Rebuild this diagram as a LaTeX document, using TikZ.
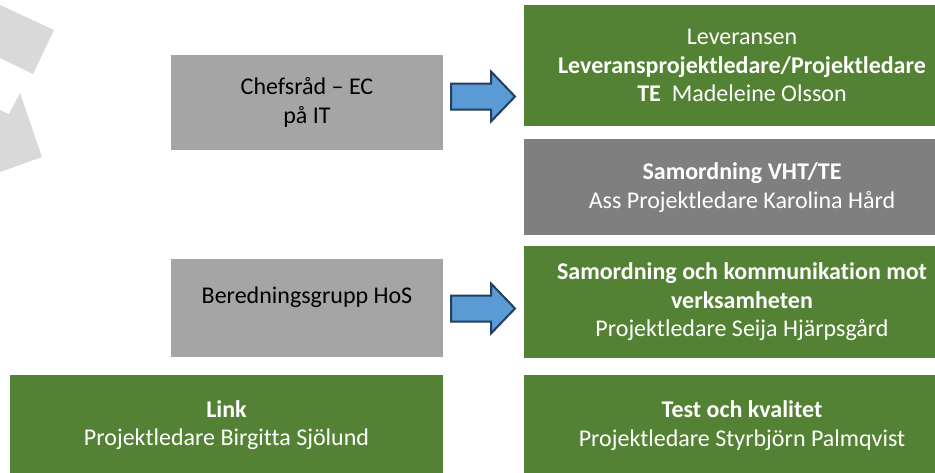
\documentclass[tikz,border=0pt]{standalone}
\usepackage{fontspec}
\setmainfont{Carlito}[Ligatures=NoCommon]
\usetikzlibrary{positioning}
\definecolor{boxgreen}{HTML}{548235}
\definecolor{boxgrey}{HTML}{A5A5A5}
\definecolor{darkgrey}{HTML}{7F7F7F}
\definecolor{shapegrey}{HTML}{D9D9D9}
\definecolor{arrowblue}{HTML}{5B9BD5}
\definecolor{arrowline}{HTML}{223F5E}

\begin{document}
\begin{tikzpicture}[
    x=1pt, y=-1pt,
    node distance=13pt,
    box/.style={rectangle, inner sep=0pt, align=center, font=\fontsize{24}{28.5}\selectfont},
    greenbox/.style={box, fill=boxgreen, text=white, minimum width=436pt},
    darkbox/.style={box, fill=darkgrey, text=white, minimum width=436pt},
    greybox/.style={box, fill=boxgrey, text=black, minimum width=272pt},
    blockarrow/.style={draw=arrowline, fill=arrowblue, line width=2pt, line join=miter}
]
\clip (0,0) rectangle (935,472);

\fill[shapegrey] (0,5) -- (54,30) -- (33,74) -- (0,58) -- cycle;
\fill[shapegrey] (0,110) -- (9,114) -- (20,93) -- (42,157) -- (0,172) -- cycle;

\node[greybox, minimum height=95pt] (chef) at (307,102.5) {Chefsråd -- EC\\på IT};
\node[greybox, minimum height=98pt] (bered) at (307,308) {};
\node[box] (beredtext) at ([yshift=11pt]bered.center) {Beredningsgrupp HoS};
\node[greenbox, minimum width=433pt, minimum height=100pt] (link) at (226.5,425) {\textbf{Link}\\Projektledare Birgitta Sjölund};

\node[greenbox, minimum height=121pt] (lev) at (742,65.5) {Leveransen\\\textbf{Leveransprojektledare/Projektledare}\\\textbf{TE}\ \ Madeleine Olsson};
\node[darkbox, minimum height=96pt, below=of lev] (vht) {\textbf{Samordning VHT/TE}\\Ass Projektledare Karolina Hård};
\node[greenbox, minimum height=112pt, below=10pt of vht] (samord) {\textbf{Samordning och kommunikation mot}\\\textbf{verksamheten}\\Projektledare Seija Hjärpsgård};
\node[greenbox, minimum height=101pt, below=17pt of samord] (test) {\textbf{Test och kvalitet}\\Projektledare Styrbjörn Palmqvist};

\coordinate (arr1) at (451,96.5);
\coordinate (arr2) at (451,308.5);
\draw[blockarrow] (arr1) ++(0,-13) -- ++(40,0) -- ++(0,-12) -- ++(24,25) -- ++(-24,25) -- ++(0,-12) -- ++(-40,0) -- cycle;
\draw[blockarrow] (arr2) ++(0,-13) -- ++(40,0) -- ++(0,-12) -- ++(24,25) -- ++(-24,25) -- ++(0,-12) -- ++(-40,0) -- cycle;

\end{tikzpicture}
\end{document}
